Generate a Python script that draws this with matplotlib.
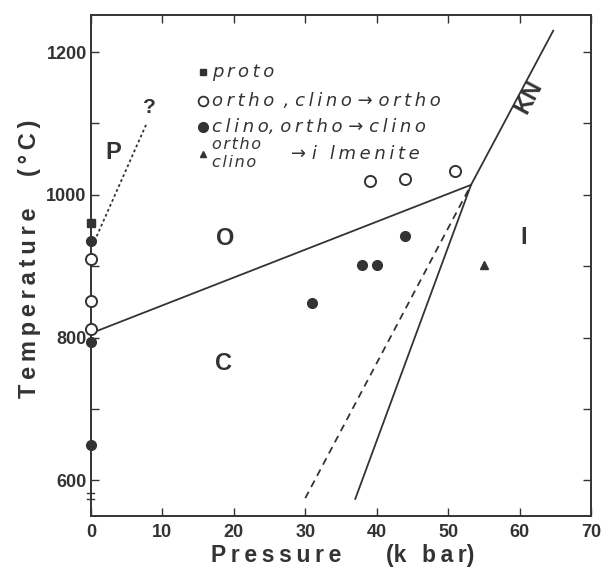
import matplotlib
matplotlib.use('agg')
import matplotlib.pyplot as plt

# phase diagram data (pressure in kbar, temperature in C)
square_P = [0]
square_T = [960]
open_P = [0, 0, 0, 39, 44, 51]
open_T = [910, 851, 812, 1020, 1022, 1033]
filled_P = [0, 0, 0, 31, 38, 40, 44]
filled_T = [935, 794, 649, 849, 902, 902, 942]
tri_P = [55]
tri_T = [902]

# phase boundaries
oc_P = [0, 53.2]
oc_T = [806, 1014]
kn_P = [37, 53.2, 64.7]
kn_T = [574, 1014, 1230]
dash_P = [30, 53.2]
dash_T = [575, 1014]
pdot_P = [0.5, 7.8]
pdot_T = [935, 1100]

x_ticks = [0, 10, 20, 30, 40, 50, 60, 70]
y_labels = [600, 800, 1000, 1200]
y_minor = [600, 700, 800, 900, 1000, 1100, 1200]

ink = '#333333'
plt.rcParams['font.family'] = ['Liberation Sans', 'DejaVu Sans']


def spaced(s, sp='\u2009'):
    # wide letter spacing like the typeset original
    return sp.join(s)


fig = plt.figure(figsize=(6.1, 5.71), dpi=100)
ax = fig.add_axes([0.149, 0.0963, 0.82, 0.8774])
ax.set_xlim(0, 70)
ax.set_ylim(550, 1252)

ax.plot(oc_P, oc_T, color=ink, lw=1.3)
ax.plot(kn_P, kn_T, color=ink, lw=1.3)
ax.plot(dash_P, dash_T, color=ink, lw=1.3, ls=(0, (4, 3)))
ax.plot(pdot_P, pdot_T, color=ink, lw=1.3, ls=(0, (1.5, 1.5)))

ax.plot(square_P, square_T, 's', color=ink, ms=5.5, clip_on=False, zorder=5)
ax.plot(open_P, open_T, 'o', mfc='white', mec=ink, mew=1.4, ms=8, clip_on=False, zorder=5)
ax.plot(filled_P, filled_T, 'o', color=ink, ms=7, clip_on=False, zorder=5)
ax.plot(tri_P, tri_T, '^', color=ink, ms=5.5, zorder=5)

# legend drawn as text
lx = 15.7
tx = lx + 1.2
ax.plot([lx], [1172], 's', color=ink, ms=5)
ax.plot([lx], [1131], 'o', mfc='white', mec=ink, mew=1.3, ms=7)
ax.plot([lx], [1095], 'o', color=ink, ms=7)
ax.plot([lx], [1057], '^', color=ink, ms=5)
leg_kw = dict(family='DejaVu Sans', style='italic', fontsize=13, color=ink, va='center')
ax.text(tx, 1172, spaced('proto'), **leg_kw)
ax.text(tx, 1131, spaced('ortho,') .replace(',', ' ,') + ' ' + spaced('clino') + ' \u2192 ' + spaced('ortho'), **leg_kw)
ax.text(tx, 1095, spaced('clino') + ', ' + spaced('ortho') + ' \u2192 ' + spaced('clino'), **leg_kw)
small_kw = dict(family='DejaVu Sans', style='italic', fontsize=11.5, color=ink, va='center')
ax.text(tx, 1070, spaced('ortho', '\u200a'), **small_kw)
ax.text(tx, 1045, spaced('clino', '\u200a'), **small_kw)
ax.text(28.0, 1057, '\u2192 ' + spaced('i lmenite'), **leg_kw)

# region labels
reg_kw = dict(fontsize=17, fontweight='bold', color=ink, ha='center', va='center')
ax.text(3.1, 1059, 'P', **reg_kw)
ax.text(18.8, 939, 'O', **reg_kw)
ax.text(18.6, 764, 'C', **reg_kw)
ax.text(60.6, 940, 'I', **reg_kw)
ax.text(61.2, 1137, 'KN', rotation=62, **reg_kw)
ax.text(8.2, 1122, '?', fontsize=15, fontweight='bold', color=ink, ha='center', va='center')

# axis break marks on the left spine
ax.plot([-0.5, 0.5], [582, 582], color=ink, lw=1, clip_on=False)
ax.plot([-0.5, 0.5], [574, 574], color=ink, lw=1, clip_on=False)

for s in ax.spines.values():
    s.set_color(ink)
    s.set_linewidth(1.4)

ax.set_xticks(x_ticks)
ax.set_yticks(y_labels)
ax.set_yticks(y_minor, minor=True)
ax.tick_params(axis='both', which='both', direction='in', top=True, right=True,
               color=ink, labelcolor=ink, labelsize=13, length=6, width=1)
ax.tick_params(axis='y', which='minor', length=6)
ax.tick_params(axis='x', pad=6)
ax.tick_params(axis='y', pad=3)
for lab in ax.get_xticklabels() + ax.get_yticklabels():
    lab.set_fontweight('bold')

fig.text(0.049, 0.469, spaced('Temperature'), rotation=90, fontsize=17,
         fontweight='bold', color=ink, ha='center', va='center')
fig.text(0.049, 0.741, spaced('(\u00b0C)'), rotation=90, fontsize=17,
         fontweight='bold', color=ink, ha='center', va='center')
fig.text(0.453, 0.028, spaced('Pressure'), fontsize=16.5, fontweight='bold', color=ink,
         ha='center', va='center')
fig.text(0.705, 0.028, '(' + spaced('k bar') + ')', fontsize=16.5, fontweight='bold', color=ink,
         ha='center', va='center')

fig.savefig('out.png', dpi=100)
